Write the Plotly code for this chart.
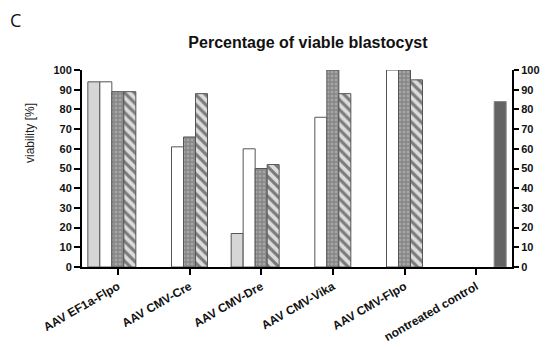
import plotly.graph_objects as go

categories = ["AAV EF1a-Flpo", "AAV CMV-Cre", "AAV CMV-Dre", "AAV CMV-Vika", "AAV CMV-Flpo", "nontreated control"]
series_1 = [94, None, 17, None, None, None]
series_2 = [94, 61, 60, 76, 100, None]
series_3 = [89, 66, 50, 100, 100, None]
series_4 = [89, 88, 52, 88, 95, None]
series_5 = [None, None, None, None, None, 84]
y_ticks = list(range(0, 101, 10))

outline = dict(color="#555555", width=1)
font_b = "Liberation Sans"

fig = go.Figure()
fig.add_trace(go.Bar(x=categories, y=series_1, marker=dict(color="#d6d6d6", line=outline), showlegend=False))
fig.add_trace(go.Bar(x=categories, y=series_2, marker=dict(color="#ffffff", line=outline), showlegend=False))
fig.add_trace(go.Bar(x=categories, y=series_3, marker=dict(color="#8a8a8a", line=outline,
                     pattern=dict(shape=".", bgcolor="#8a8a8a", fgcolor="#c4c4c4", size=4, solidity=0.35)),
                     showlegend=False))
fig.add_trace(go.Bar(x=categories, y=series_4, marker=dict(color="#dcdcdc", line=outline,
                     pattern=dict(shape="\\", bgcolor="#dcdcdc", fgcolor="#1a1a1a", size=7, solidity=0.45)),
                     showlegend=False))
fig.add_trace(go.Bar(x=categories, y=series_5, marker=dict(color="#646464", line=dict(color="#888888", width=1)), showlegend=False))
# invisible trace to bind the right-hand axis
fig.add_trace(go.Scatter(x=[categories[0]], y=[0], yaxis="y2", mode="markers",
                         marker=dict(opacity=0), showlegend=False, hoverinfo="skip"))

axis_font = dict(family=font_b, size=11, color="#111111", weight="bold")
fig.update_layout(
    width=547, height=348,
    margin=dict(l=82, r=35, t=70, b=81),
    paper_bgcolor="white", plot_bgcolor="white",
    barmode="group", bargap=0.163, bargroupgap=0,
    title=dict(text="Percentage of viable blastocyst", x=0.563, xanchor="center",
               y=1 - 42 / 348, yanchor="middle",
               font=dict(family=font_b, size=16, color="#111111", weight="bold")),
    xaxis=dict(type="category", range=[-0.5, 5.5], showline=True, linecolor="black", linewidth=2,
               ticks="outside", ticklen=6, tickwidth=2, tickcolor="black", tickangle=-30,
               tickfont=dict(family=font_b, size=12, color="#111111", weight="bold"),
               showgrid=False, zeroline=False, automargin=False),
    yaxis=dict(range=[0, 100], tickvals=y_ticks, showline=True, linecolor="black", linewidth=2,
               ticks="outside", ticklen=6, tickwidth=2, tickcolor="black",
               tickfont=axis_font, showgrid=False, zeroline=False, automargin=False),
    yaxis2=dict(range=[0, 100], tickvals=y_ticks, overlaying="y", side="right", showline=True,
                linecolor="black", linewidth=2, ticks="outside", ticklen=5, tickwidth=2, tickcolor="black",
                tickfont=axis_font, showgrid=False, zeroline=False, automargin=False),
    annotations=[
        dict(text="C", xref="paper", yref="paper", x=(15 - 82) / 430, y=1 + (70 - 20) / 197,
             xanchor="center", yanchor="middle", showarrow=False,
             font=dict(family="Open Sans", size=18, color="#111111")),
        dict(text="viability [%]", xref="paper", yref="paper", x=(30 - 82) / 430, y=(267 - 133) / 197,
             xanchor="center", yanchor="middle", textangle=-90, showarrow=False,
             font=dict(family=font_b, size=12, color="#222222")),
    ],
)

fig.write_html("out.html", config={"displayModeBar": False},
               post_script="document.body.style.margin='0';document.body.style.overflow='hidden';")
